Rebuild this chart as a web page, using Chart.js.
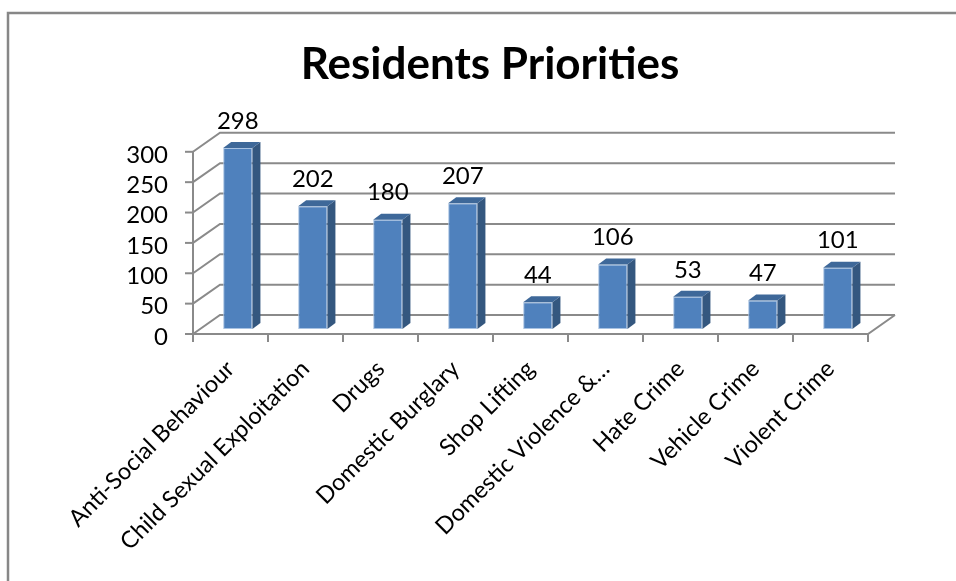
<!DOCTYPE html>
<html lang="en">
<head>
<meta charset="UTF-8" />
<title>Residents Priorities</title>
<script src="https://cdn.jsdelivr.net/npm/chart.js"></script>
<style>
  body { margin: 0; background: #ffffff; }
  canvas { display: block; }
</style>
</head>
<body>
<canvas id="chart" width="956" height="581"></canvas>
<script>
const categories = [
  "Anti-Social Behaviour",
  "Child Sexual Exploitation",
  "Drugs",
  "Domestic Burglary",
  "Shop Lifting",
  "Domestic Violence &…",
  "Hate Crime",
  "Vehicle Crime",
  "Violent Crime",
];
const votes = [298, 202, 180, 207, 44, 106, 53, 47, 101];
const yTicks = [0, 50, 100, 150, 200, 250, 300];

// 3D look: where the front axis and back wall sit relative to the bars
const FRONT = { dx: -7.3, dy: 5 };
const BACK = { dx: 19.7, dy: -14 };
const DEPTH = { dx: 8, dy: -6 };
const gridColor = "#8a8a8a";

const frame = {
  id: "frame",
  beforeDraw(chart) {
    const ctx = chart.ctx;
    ctx.save();
    ctx.fillStyle = "#ffffff";
    ctx.fillRect(0, 0, chart.width, chart.height);
    ctx.strokeStyle = "#878787";
    ctx.lineWidth = 2.5;
    ctx.strokeRect(8, 13, 2000, 2000);
    ctx.restore();
  },
};

const walls = {
  id: "walls",
  beforeDatasetsDraw(chart) {
    const { ctx, chartArea: a, scales: { x, y } } = chart;
    const l = a.left, r = a.right;
    ctx.save();
    ctx.strokeStyle = gridColor;
    ctx.lineWidth = 2;
    yTicks.forEach((v) => {
      const py = y.getPixelForValue(v);
      ctx.beginPath();
      ctx.moveTo(l + FRONT.dx, py + FRONT.dy);
      ctx.lineTo(l + BACK.dx, py + BACK.dy);
      ctx.lineTo(r + BACK.dx, py + BACK.dy);
      ctx.stroke();
      ctx.beginPath();
      ctx.moveTo(l + FRONT.dx - 8, py + FRONT.dy);
      ctx.lineTo(l + FRONT.dx, py + FRONT.dy);
      ctx.stroke();
    });
    const y0 = y.getPixelForValue(0);
    const yTop = y.getPixelForValue(300);
    ctx.beginPath();
    ctx.moveTo(l + FRONT.dx, yTop + FRONT.dy);
    ctx.lineTo(l + FRONT.dx, y0 + FRONT.dy);
    ctx.lineTo(r + FRONT.dx, y0 + FRONT.dy);
    ctx.lineTo(r + BACK.dx, y0 + BACK.dy);
    ctx.stroke();
    for (let i = 0; i <= categories.length; i++) {
      const px = x.getPixelForValue(i - 0.5) + FRONT.dx;
      ctx.beginPath();
      ctx.moveTo(px, y0 + FRONT.dy);
      ctx.lineTo(px, y0 + FRONT.dy + 8);
      ctx.stroke();
    }
    ctx.restore();
  },
};

const bars3d = {
  id: "bars3d",
  afterDatasetsDraw(chart) {
    const ctx = chart.ctx;
    const meta = chart.getDatasetMeta(0);
    ctx.save();
    meta.data.forEach((bar, i) => {
      const { x, y, base, width } = bar.getProps(["x", "y", "base", "width"], true);
      const l = x - width / 2, r = x + width / 2;
      ctx.fillStyle = "#34577f";
      ctx.beginPath();
      ctx.moveTo(r, y);
      ctx.lineTo(r + DEPTH.dx, y + DEPTH.dy);
      ctx.lineTo(r + DEPTH.dx, base + DEPTH.dy);
      ctx.lineTo(r, base);
      ctx.closePath();
      ctx.fill();
      ctx.fillStyle = "#3e6899";
      ctx.beginPath();
      ctx.moveTo(l, y);
      ctx.lineTo(l + DEPTH.dx, y + DEPTH.dy);
      ctx.lineTo(r + DEPTH.dx, y + DEPTH.dy);
      ctx.lineTo(r, y);
      ctx.closePath();
      ctx.fill();
      ctx.fillStyle = "#000000";
      ctx.font = "24px Lato";
      ctx.textAlign = "center";
      ctx.textBaseline = "middle";
      ctx.fillText(String(votes[i]), x, y - 27);
    });
    ctx.restore();
  },
};

new Chart(document.getElementById("chart"), {
  type: "bar",
  data: {
    labels: categories,
    datasets: [
      {
        data: votes,
        backgroundColor: "#4f81bd",
        borderColor: "#a8c2e2",
        borderWidth: 1,
        borderSkipped: false,
        categoryPercentage: 1,
        barPercentage: 0.39,
      },
    ],
  },
  options: {
    responsive: false,
    animation: false,
    devicePixelRatio: 1,
    layout: { padding: { left: 104.7, right: 80.7, top: 0, bottom: 0 } },
    plugins: {
      legend: { display: false },
      tooltip: { enabled: false },
      title: {
        display: true,
        text: "Residents Priorities",
        color: "#000000",
        font: { family: "Lato", size: 44, weight: "bold", lineHeight: 1.2 },
        padding: { top: 38, bottom: 56 },
      },
    },
    scales: {
      x: {
        grid: { display: false, drawTicks: false },
        border: { display: false },
        ticks: {
          autoSkip: false,
          maxRotation: 45,
          minRotation: 45,
          color: "#000000",
          font: { family: "Lato", size: 23.5 },
          labelOffset: -7.3,
          padding: 26,
        },
        afterFit(s) { s.height = 252; },
      },
      y: {
        min: 0,
        max: 300,
        grid: { display: false, drawTicks: false },
        border: { display: false },
        ticks: {
          autoSkip: false,
          stepSize: 50,
          color: "#000000",
          font: { family: "Lato", size: 24 },
          padding: 32.3,
          labelOffset: 8,
        },
        afterFit(s) { s.width = 95.6; },
      },
    },
  },
  plugins: [frame, walls, bars3d],
});
</script>
</body>
</html>
